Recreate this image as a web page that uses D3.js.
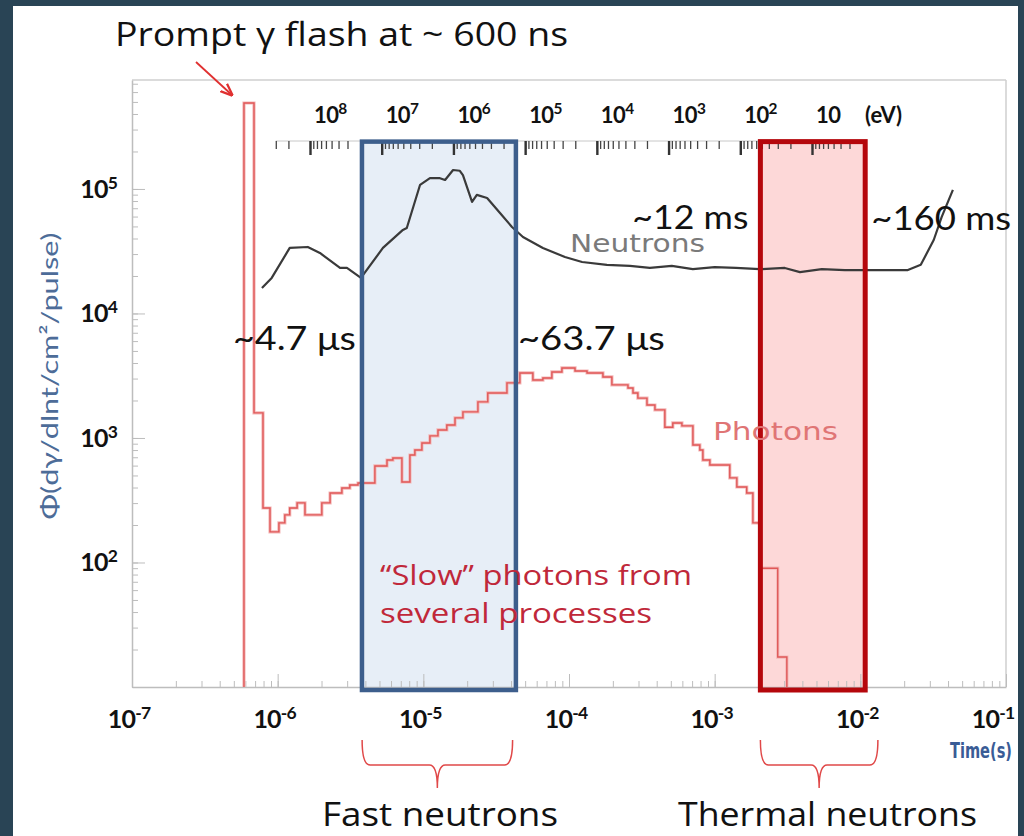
<!DOCTYPE html>
<html>
<meta charset="utf-8">
<head>
  <title>n_TOF flux vs time</title>
  <script src="https://d3js.org/d3.v7.min.js"></script>
  <style>
    body { margin: 0; background: #294455; }
    text { font-family: Lato, "Open Sans", sans-serif; }
  </style>
</head>
<body>
<div id="chart"></div>
<script>

// ---- data ----
// photon histogram: bin edges (s) and flux per bin
var photonEdges = [5.87e-7, 6.88e-7, 7.93e-7, 8.86e-7, 1.02e-6, 1.12e-6, 1.21e-6, 1.36e-6, 1.54e-6, 2.01e-6,
  2.29e-6, 2.76e-6, 3.13e-6, 3.56e-6, 4.65e-6, 5.63e-6, 6.18e-6, 7.13e-6, 8.09e-6, 8.75e-6,
  9.78e-6, 1.11e-5, 1.26e-5, 1.45e-5, 1.65e-5, 1.87e-5, 2.37e-5, 2.77e-5, 3.75e-5, 4.60e-5,
  5.65e-5, 6.62e-5, 7.63e-5, 8.94e-5, 1.10e-4, 1.33e-4, 1.71e-4, 1.97e-4, 2.54e-4, 2.75e-4,
  2.97e-4, 3.43e-4, 3.89e-4, 4.55e-4, 5.16e-4, 5.96e-4, 7.09e-4, 7.91e-4, 8.30e-4, 9.27e-4,
  1.27e-3, 1.42e-3, 1.66e-3, 1.83e-3, 2.04e-3, 2.71e-3, 3.13e-3];
var photonFlux = [4.9e5, 1590, 274, 176, 208, 241, 274, 301, 241, 301,
  361, 396, 419, 435, 596, 665, 690, 443, 730, 801,
  912, 1040, 1160, 1270, 1450, 1620, 1950, 2300, 2770, 3330,
  2920, 3030, 3390, 3650, 3450, 3330, 3090, 2670, 2520, 2300,
  2090, 1840, 1680, 1220, 1320, 1250, 879, 801, 665, 607,
  478, 404, 361, 208, 90, 17.4];

// neutron curve
var neutronTime = [7.8e-7, 9.1e-7, 1.21e-6, 1.61e-6, 1.95e-6, 2.68e-6, 2.99e-6, 3.73e-6, 5.28e-6, 7.24e-6,
  7.7e-6, 9.5e-6, 1.11e-5, 1.30e-5, 1.41e-5, 1.60e-5, 1.78e-5, 1.87e-5, 2.16e-5, 2.33e-5,
  2.74e-5, 3.36e-5, 4.06e-5, 4.83e-5, 6.62e-5, 9.38e-5, 1.23e-4, 1.82e-4, 2.62e-4, 3.59e-4,
  5.08e-4, 7.08e-4, 1.0e-3, 1.40e-3, 2.04e-3, 3.03e-3, 3.85e-3, 5.44e-3, 7.83e-3, 1.07e-2,
  1.60e-2, 2.12e-2, 2.60e-2, 3.19e-2, 3.62e-2, 4.32e-2];
var neutronFlux = [1.60e4, 1.93e4, 3.36e4, 3.42e4, 3.06e4, 2.32e4, 2.32e4, 1.93e4, 3.36e4, 4.69e4,
  4.86e4, 1.08e5, 1.22e5, 1.22e5, 1.18e5, 1.42e5, 1.40e5, 1.29e5, 7.87e4, 8.96e4,
  8.47e4, 6.41e4, 4.95e4, 4.11e4, 3.36e4, 2.84e4, 2.59e4, 2.46e4, 2.41e4, 2.32e4,
  2.41e4, 2.27e4, 2.36e4, 2.32e4, 2.27e4, 2.32e4, 2.15e4, 2.27e4, 2.23e4, 2.23e4,
  2.23e4, 2.23e4, 2.46e4, 3.89e4, 5.96e4, 9.82e4];

var timeTicks = [1e-7, 1e-6, 1e-5, 1e-4, 1e-3, 1e-2, 1e-1];
var timeExp = ["-7", "-6", "-5", "-4", "-3", "-2", "-1"];
var fluxTicks = [1e2, 1e3, 1e4, 1e5];
var fluxExp = ["2", "3", "4", "5"];
var energyTicks = [1e8, 1e7, 1e6, 1e5, 1e4, 1e3, 1e2, 1e1];
var energyExp = ["8", "7", "6", "5", "4", "3", "2", ""];

var fastRange = [3.79e-6, 4.32e-5];      // blue box
var thermalRange = [2.06e-3, 1.08e-2];   // red box
var boxTopFlux = 2.4e5;
var fastBrace = [3.8e-6, 4.1e-5];
var thermalBrace = [2.06e-3, 1.32e-2];

// ---- layout ----
var margin = {top: 80, right: 18, bottom: 149, left: 132},
    width = 1006 - margin.left,
    height = 687 - margin.top;

var svg = d3.select("#chart").append("svg")
    .attr("width", 1024)
    .attr("height", 836);

svg.append("rect").attr("width", 1024).attr("height", 836).attr("fill", "#294455");
svg.append("rect").attr("x", 13).attr("y", 6).attr("width", 1005).attr("height", 830).attr("fill", "#ffffff");

var x = d3.scaleLog().domain([1e-7, 1e-1]).range([margin.left, margin.left + width]);
var y = d3.scaleLog().domain([10, 7.5e5]).range([margin.top + height, margin.top]);
var e = d3.scaleLog().domain([1e8, 10]).range([310, 812]);

// minor tick values for a log range
function minors(lo, hi) {
  var out = [];
  for (var p = Math.floor(Math.log10(lo)); p <= Math.ceil(Math.log10(hi)); p++) {
    for (var k = 1; k < 10; k++) {
      var v = k * Math.pow(10, p);
      if (v >= lo * 0.999 && v <= hi * 1.001) out.push(v);
    }
  }
  return out;
}

function powText(sel, exp) {
  sel.append("tspan").text("10");
  if (exp !== "") sel.append("tspan").attr("dy", -9).attr("font-size", "0.7em").text(exp);
}

var bottomY = y.range()[0];

// ---- boxes (fill) ----
var boxes = [
  {r: fastRange, fill: "#e7eef7", stroke: "#3d5e8c", w: 4.5},
  {r: thermalRange, fill: "#fdd8d8", stroke: "#b5070c", w: 5}
];
svg.append("g").selectAll("rect").data(boxes).enter().append("rect")
  .attr("x", function(d) { return x(d.r[0]); })
  .attr("y", y(boxTopFlux))
  .attr("width", function(d) { return x(d.r[1]) - x(d.r[0]); })
  .attr("height", function(d) { return bottomY + 3 - y(boxTopFlux); })
  .attr("fill", function(d) { return d.fill; });

// ---- frame and axes ----
var frame = svg.append("g").attr("stroke", "#cfcfcf").attr("stroke-width", 1.5);
frame.append("line").attr("x1", x.range()[0]).attr("x2", x.range()[1]).attr("y1", y.range()[1]).attr("y2", y.range()[1]);
frame.append("line").attr("x1", x.range()[1]).attr("x2", x.range()[1]).attr("y1", y.range()[1]).attr("y2", bottomY);

function styleAxis(g, col) {
  g.selectAll("path.domain").attr("stroke", col).attr("stroke-width", 1.5);
  g.selectAll(".tick line").attr("stroke", col);
}

var gyMinor = svg.append("g").attr("transform", "translate(" + x.range()[0] + ",0)")
  .call(d3.axisLeft(y).tickValues(minors(10, 7.5e5)).tickSize(-6).tickFormat("").tickSizeOuter(0));
styleAxis(gyMinor, "#bdbdbd");
var gyMajor = svg.append("g").attr("transform", "translate(" + x.range()[0] + ",0)")
  .call(d3.axisLeft(y).tickValues(fluxTicks).tickSize(-13).tickFormat("").tickSizeOuter(0));
styleAxis(gyMajor, "#bdbdbd");
gyMajor.select("path.domain").remove();

var gxMinor = svg.append("g").attr("transform", "translate(0," + bottomY + ")")
  .call(d3.axisTop(x).tickValues(minors(1e-7, 1e-1)).tickSize(6).tickFormat("").tickSizeOuter(0));
styleAxis(gxMinor, "#bdbdbd");
var gxMajor = svg.append("g").attr("transform", "translate(0," + bottomY + ")")
  .call(d3.axisTop(x).tickValues(timeTicks).tickSize(13).tickFormat("").tickSizeOuter(0));
styleAxis(gxMajor, "#bdbdbd");
gxMajor.select("path.domain").remove();

// tick labels
svg.append("g").selectAll("text").data(fluxTicks).enter().append("text")
  .attr("x", 117).attr("y", function(d) { return y(d) + 9; })
  .attr("text-anchor", "end").attr("font-size", 25).attr("font-weight", "bold").attr("fill", "#111")
  .attr("letter-spacing", -0.8)
  .each(function(d, i) { powText(d3.select(this), fluxExp[i]); });

svg.append("g").selectAll("text").data(timeTicks).enter().append("text")
  .attr("x", function(d, i) { return x(d) - (i === timeTicks.length - 1 ? 13 : 3); }).attr("y", 728)
  .attr("text-anchor", "middle").attr("font-size", 25).attr("font-weight", "bold").attr("fill", "#111")
  .attr("letter-spacing", -0.8)
  .each(function(d, i) { powText(d3.select(this), timeExp[i]); });

// energy axis on top
var eTop = 141;
var geMinor = svg.append("g").attr("transform", "translate(0," + eTop + ")")
  .call(d3.axisBottom(e).tickValues(minors(3, 3e8)).tickSize(8).tickFormat("").tickSizeOuter(0));
geMinor.select("path.domain").attr("d", "M" + e(3e8) + ",0H" + e(3)).attr("stroke", "#c8c8c8");
geMinor.selectAll(".tick line").attr("stroke", "#444").attr("stroke-width", 1.3);
var geMajor = svg.append("g").attr("transform", "translate(0," + eTop + ")")
  .call(d3.axisBottom(e).tickValues(energyTicks).tickSize(14).tickFormat("").tickSizeOuter(0));
geMajor.select("path.domain").remove();
geMajor.selectAll(".tick line").attr("stroke", "#333").attr("stroke-width", 2.4);

svg.append("g").selectAll("text").data(energyTicks).enter().append("text")
  .attr("x", function(d) { return e(d) + 4; }).attr("y", 123)
  .attr("font-size", 22).attr("font-weight", "bold").attr("fill", "#111")
  .attr("letter-spacing", -0.6)
  .each(function(d, i) { powText(d3.select(this), energyExp[i]); });
svg.append("text").attr("x", 865).attr("y", 123)
  .attr("font-size", 22).attr("font-weight", "bold").attr("fill", "#111").text("(eV)");

// ---- curves ----
var photonPts = [[photonEdges[0], null]];
photonFlux.forEach(function(v, i) { photonPts.push([photonEdges[i], v]); });
photonPts.push([photonEdges[photonEdges.length - 1], null]);

var stepLine = d3.line()
  .x(function(d) { return x(d[0]); })
  .y(function(d) { return d[1] === null ? bottomY : y(d[1]); })
  .curve(d3.curveStepAfter);

svg.append("path").datum(photonPts)
  .attr("d", stepLine)
  .attr("fill", "none").attr("stroke", "#f4b8b8").attr("stroke-width", 3.2);
svg.append("path").datum(photonPts)
  .attr("d", stepLine)
  .attr("fill", "none").attr("stroke", "#df5858").attr("stroke-width", 1.4);

var neutronLine = d3.line()
  .x(function(d, i) { return x(neutronTime[i]); })
  .y(function(d) { return y(d); });
svg.append("path").datum(neutronFlux)
  .attr("d", neutronLine)
  .attr("fill", "none").attr("stroke", "#3a3a3a").attr("stroke-width", 2.2)
  .attr("stroke-linejoin", "round");

// ---- box outlines ----
svg.append("g").selectAll("rect").data(boxes).enter().append("rect")
  .attr("x", function(d) { return x(d.r[0]); })
  .attr("y", y(boxTopFlux))
  .attr("width", function(d) { return x(d.r[1]) - x(d.r[0]); })
  .attr("height", function(d) { return bottomY + 3 - y(boxTopFlux); })
  .attr("fill", "none")
  .attr("stroke", function(d) { return d.stroke; })
  .attr("stroke-width", function(d) { return d.w; });

// ---- texts ----
function label(txt, xx, yy, size, col, len, anchor, family) {
  var t = svg.append("text").attr("x", xx).attr("y", yy)
    .attr("font-size", size).attr("fill", col)
    .attr("text-anchor", anchor || "start")
    .text(txt);
  if (family) t.style("font-family", family);
  if (len) t.attr("textLength", len).attr("lengthAdjust", "spacingAndGlyphs");
  return t;
}

var handFont = "'Open Sans', sans-serif";
label("Prompt \u03b3 flash at ~ 600 ns", 115, 46, 33, "#111", 453, "start", handFont);

// arrow to the prompt flash
svg.append("defs").append("marker")
  .attr("id", "arrow").attr("viewBox", "0 0 10 10").attr("refX", 9).attr("refY", 5)
  .attr("markerWidth", 7).attr("markerHeight", 7).attr("orient", "auto")
  .append("path").attr("d", "M0,1 L10,5 L0,9").attr("fill", "none").attr("stroke", "#e03030").attr("stroke-width", 1.8);
svg.append("line")
  .attr("x1", 196).attr("y1", 62)
  .attr("x2", x(photonEdges[0]) - 12).attr("y2", y(photonFlux[0]) - 8)
  .attr("stroke", "#e03030").attr("stroke-width", 1.8).attr("marker-end", "url(#arrow)");

label("~4.7 \u03bcs", x(fastRange[0]) - 6, 350, 33, "#111", 123, "end");
label("~63.7 \u03bcs", x(fastRange[1]) + 2, 350, 33, "#111", 147, "start");
label("~12 ms", x(thermalRange[0]) - 12, 229, 33, "#111", 116, "end");
label("~160 ms", x(thermalRange[1]) + 6, 230, 33, "#111", 140, "start");

label("Neutrons", 570, 252, 24, "#7a7a7a", 135, "start", "'DejaVu Sans', sans-serif");
label("Photons", 713, 440, 24, "#e07575", 125, "start", "'DejaVu Sans', sans-serif");

label("\u201cSlow\u201d photons from", 380, 585, 28, "#c0283a", 312, "start", handFont);
label("several processes", 380, 623, 28, "#c0283a", 272, "start", handFont);

label("Fast neutrons", 322, 826, 33, "#111", 236, "start", handFont);
label("Thermal neutrons", 678, 826, 33, "#111", 299, "start", handFont);

label("Time(s)", 950, 758, 22, "#3a5c96", 62, "start", "'Liberation Sans Narrow', 'DejaVu Sans Condensed', sans-serif")
  .attr("font-weight", "bold");

svg.append("text")
  .attr("transform", "translate(58,376) rotate(-90)")
  .attr("text-anchor", "middle")
  .attr("font-size", 24).attr("fill", "#4d6c98")
  .attr("textLength", 287).attr("lengthAdjust", "spacingAndGlyphs")
  .text("\u03a6(d\u03b3/dlnt/cm\u00b2/pulse)");

// ---- braces ----
function brace(r) {
  var xa = x(r[0]), xb = x(r[1]), xm = (xa + xb) / 2;
  var ya = 740, ym = 765, yt = 788;
  return "M" + xa + "," + ya + " Q" + xa + "," + ym + " " + (xa + 8) + "," + ym +
    " L" + (xm - 8) + "," + ym + " Q" + xm + "," + ym + " " + xm + "," + yt +
    " Q" + xm + "," + ym + " " + (xm + 8) + "," + ym +
    " L" + (xb - 8) + "," + ym + " Q" + xb + "," + ym + " " + xb + "," + ya;
}
svg.append("g").selectAll("path").data([fastBrace, thermalBrace]).enter().append("path")
  .attr("d", brace)
  .attr("fill", "none").attr("stroke", "#e04848").attr("stroke-width", 1.5);

</script>
</body>
</html>
